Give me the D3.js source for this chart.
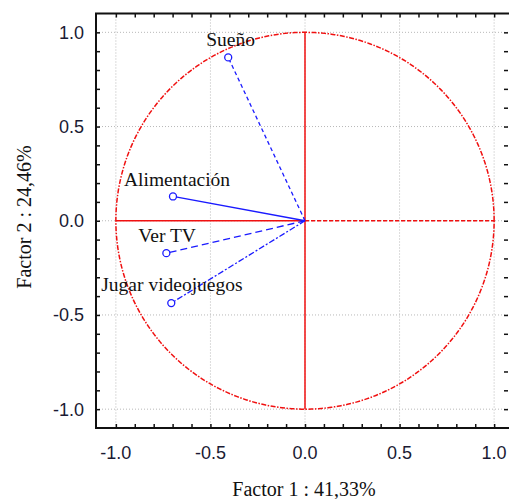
<!DOCTYPE html>
<html>
<head>
<meta charset="utf-8">
<script src="https://cdn.jsdelivr.net/npm/d3@7"></script>
<style>
  html, body { margin: 0; padding: 0; background: #fff; }
  svg { display: block; }
</style>
</head>
<body>
<svg id="chart" width="509" height="499"></svg>
<script>
// variables and their coordinates on the first two factors
const variables = ["Sueño", "Alimentación", "Ver TV", "Jugar videojuegos"];
const factor1 = [-0.406, -0.698, -0.733, -0.707];
const factor2 = [0.867, 0.129, -0.172, -0.437];
const tickValues = [-1.0, -0.5, 0.0, 0.5, 1.0];

const svg = d3.select("#chart");
const plotLeft = 96, plotRight = 514, plotTop = 13.5, plotBottom = 428;

const x = d3.scaleLinear().domain([-1.105, 1.105]).range([plotLeft, plotRight]);
const y = d3.scaleLinear().domain([-1.1, 1.1]).range([plotBottom, plotTop]);

// gridlines
const grid = svg.append("g").attr("stroke", "#b8b8b8").attr("stroke-width", 1)
  .attr("stroke-dasharray", "1,2");
tickValues.forEach(v => {
  grid.append("line").attr("x1", x(v)).attr("x2", x(v)).attr("y1", plotTop).attr("y2", plotBottom);
  grid.append("line").attr("x1", plotLeft).attr("x2", plotRight).attr("y1", y(v)).attr("y2", y(v));
});

// unit circle
const circle = d3.range(0, 361, 1).map(a => [Math.cos(a * Math.PI / 180), Math.sin(a * Math.PI / 180)]);
svg.append("path")
  .datum(circle)
  .attr("d", d3.line().x(d => x(d[0])).y(d => y(d[1])))
  .attr("fill", "none").attr("stroke", "#f01010").attr("stroke-width", 1.5)
  .attr("stroke-dasharray", "5,1.5,1.5,1.5");

// axes through origin
svg.append("line").attr("x1", x(-1)).attr("x2", x(0)).attr("y1", y(0)).attr("y2", y(0))
  .attr("stroke", "#f01010").attr("stroke-width", 1.5);
svg.append("line").attr("x1", x(0)).attr("x2", x(1)).attr("y1", y(0)).attr("y2", y(0))
  .attr("stroke", "#f01010").attr("stroke-width", 1.5).attr("stroke-dasharray", "4,2");
svg.append("line").attr("x1", x(0)).attr("x2", x(0)).attr("y1", y(1)).attr("y2", y(-1))
  .attr("stroke", "#f01010").attr("stroke-width", 1.5);

// vectors
const dashes = ["4,3", null, "7,4", "6,2,2,2"];
const labelPos = [[-22, -11], [-49, -10], [-28, -11], [-70, -12]];
variables.forEach((name, i) => {
  svg.append("line")
    .attr("x1", x(0)).attr("y1", y(0))
    .attr("x2", x(factor1[i])).attr("y2", y(factor2[i]))
    .attr("stroke", "#1a1aff").attr("stroke-width", 1.3)
    .attr("stroke-dasharray", dashes[i]);
  svg.append("circle")
    .attr("cx", x(factor1[i])).attr("cy", y(factor2[i])).attr("r", 3.5)
    .attr("fill", "#fff").attr("stroke", "#1a1aff").attr("stroke-width", 1.3);
  svg.append("text")
    .attr("x", x(factor1[i]) + labelPos[i][0])
    .attr("y", y(factor2[i]) + labelPos[i][1])
    .attr("font-family", "Liberation Serif, serif").attr("font-size", 19.5)
    .attr("fill", "#111")
    .text(name);
});

// frame
svg.append("rect").attr("x", plotLeft).attr("y", plotTop)
  .attr("width", plotRight - plotLeft).attr("height", plotBottom - plotTop)
  .attr("fill", "none").attr("stroke", "#111").attr("stroke-width", 2);

// inward ticks every 0.1
const minor = d3.range(-11, 12).map(v => v / 10).filter(v => Math.abs(v) <= 1.05);
svg.append("g").call(d3.axisBottom(x).tickValues(minor).tickSize(-4).tickFormat(""))
  .attr("transform", `translate(0,${plotBottom})`).call(g => g.select(".domain").remove());
svg.append("g").call(d3.axisTop(x).tickValues(minor).tickSize(-4).tickFormat(""))
  .attr("transform", `translate(0,${plotTop})`).call(g => g.select(".domain").remove());
svg.append("g").call(d3.axisLeft(y).tickValues(minor).tickSize(-4).tickFormat(""))
  .attr("transform", `translate(${plotLeft},0)`).call(g => g.select(".domain").remove());
svg.append("g").call(d3.axisRight(y).tickValues(minor).tickSize(-4).tickFormat(""))
  .attr("transform", `translate(${plotRight - 6},0)`).call(g => g.select(".domain").remove());
svg.selectAll(".tick line").attr("stroke", "#111").attr("stroke-width", 1.5);

// tick labels (plain hyphen for negatives)
const fmt = d => d.toFixed(1);
svg.append("g").selectAll("text").data(tickValues).join("text")
  .attr("x", d => x(d)).attr("y", 459)
  .attr("text-anchor", "middle")
  .attr("font-family", "Liberation Sans, Arial, sans-serif").attr("font-size", 18).attr("fill", "#1a1a33")
  .text(fmt);
svg.append("g").selectAll("text").data(tickValues).join("text")
  .attr("x", 84).attr("y", d => y(d) + 6.5)
  .attr("text-anchor", "end")
  .attr("font-family", "Liberation Sans, Arial, sans-serif").attr("font-size", 18).attr("fill", "#1a1a33")
  .text(fmt);

// axis titles
svg.append("text").attr("x", 304).attr("y", 496).attr("text-anchor", "middle")
  .attr("font-family", "Liberation Serif, serif").attr("font-size", 20).attr("fill", "#111")
  .text("Factor 1 : 41,33%");
svg.append("text").attr("transform", "translate(31,217) rotate(-90)").attr("text-anchor", "middle")
  .attr("font-family", "Liberation Serif, serif").attr("font-size", 20).attr("fill", "#111")
  .text("Factor 2 : 24,46%");
</script>
</body>
</html>
